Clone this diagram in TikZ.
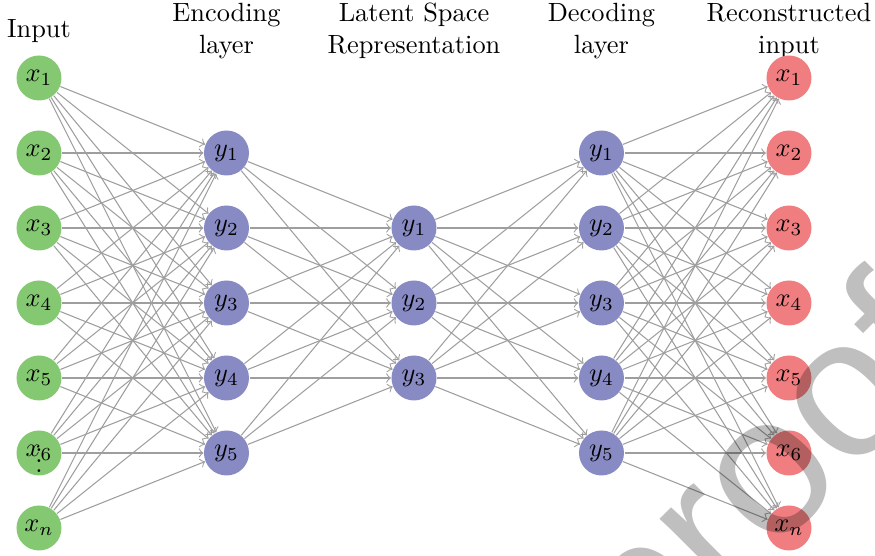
\documentclass[tikz,border=0pt]{standalone}
\usepackage{fontspec}
\newfontfamily\wmfont{Liberation Sans}

\definecolor{incol}{RGB}{133,200,114}
\definecolor{hidcol}{RGB}{136,138,196}
\definecolor{outcol}{RGB}{240,126,128}

\begin{document}
\begin{tikzpicture}
    \tikzstyle{neuron}=[circle, minimum size=0.6cm, inner sep=0pt]
    \tikzstyle{wire}=[->, draw=black!38, line width=0.4pt]
    \tikzstyle{title}=[align=center]
    \useasboundingbox (0,0) rectangle (11.667,-7.413);
    % titles
    \node[title] (tin) at (0.52,-0.41) {Input};
    \node[title] (tenc) at (3.02,-0.41) {Encoding\\layer};
    \node[title] (tlat) at (5.52,-0.41) {Latent Space\\Representation};
    \node[title] (tdec) at (8.02,-0.41) {Decoding\\layer};
    \node[title] (tout) at (10.52,-0.41) {Reconstructed\\input};
    % layers
    \foreach \i/\s in {1/1,2/2,3/3,4/4,5/5,6/6,7/n}
        \node[neuron, fill=incol] (in\i) at (0.52,-0.04-\i) {$x_{\s}$};
    \foreach \i in {1,...,5}
        \node[neuron, fill=hidcol] (enc\i) at (3.02,-1.04-\i) {$y_{\i}$};
    \foreach \i in {1,...,3}
        \node[neuron, fill=hidcol] (lat\i) at (5.52,-2.04-\i) {$y_{\i}$};
    \foreach \i in {1,...,5}
        \node[neuron, fill=hidcol] (dec\i) at (8.02,-1.04-\i) {$y_{\i}$};
    \foreach \i/\s in {1/1,2/2,3/3,4/4,5/5,6/6,7/n}
        \node[neuron, fill=outcol] (out\i) at (10.52,-0.04-\i) {$x_{\s}$};
    \node (dots) at (in6) {$\vdots$};
    % connections
    \foreach \i in {1,...,7}
        \foreach \j in {1,...,5}
            \draw[wire] (in\i) -- (enc\j);
    \foreach \i in {1,...,5}
        \foreach \j in {1,...,3}
            \draw[wire] (enc\i) -- (lat\j);
    \foreach \i in {1,...,3}
        \foreach \j in {1,...,5}
            \draw[wire] (lat\i) -- (dec\j);
    \foreach \i in {1,...,5}
        \foreach \j in {1,...,7}
            \draw[wire] (dec\i) -- (out\j);
    % watermark
    \node[rotate=45, text=black, opacity=0.25, font=\wmfont\fontsize{75}{75}\selectfont] (wm) at (10.27,-6.46) {proof};
\end{tikzpicture}
\end{document}
